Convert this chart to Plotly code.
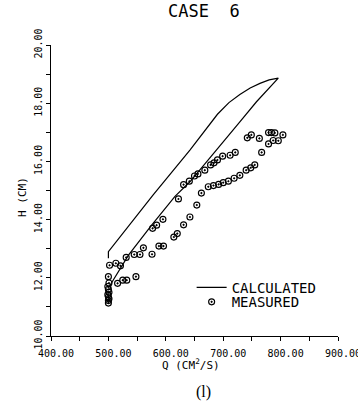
import plotly.graph_objects as go

# Calculated curve (loop)
calc_q = [500, 500, 578, 642, 690, 710, 729, 747, 764, 780, 796,
          758, 729, 700, 671, 642, 616, 575, 535, 503, 500]
calc_h = [12.67, 12.90, 14.85, 16.39, 17.62, 18.02, 18.30, 18.52, 18.68, 18.80, 18.86,
          18.05, 17.36, 16.68, 15.99, 15.30, 14.80, 13.80, 12.78, 11.75, 11.65]

# Measured points
meas_q = [500, 501, 499, 500, 501, 499, 500, 501, 500, 500,
          502, 513, 521, 531, 545, 555, 561, 577, 584, 595, 622, 631, 641, 650, 656,
          668, 678, 684, 690, 699, 712, 721, 742, 749, 763, 779, 784, 790, 804,
          516, 525, 532, 548, 576, 588, 596, 614, 620, 631, 642, 654, 662, 674,
          683, 692, 700, 709, 719, 729, 740, 748, 755, 767, 779, 787, 796]
meas_h = [12.04, 11.82, 11.70, 11.60, 11.50, 11.42, 11.35, 11.28, 11.22, 11.13,
          12.43, 12.50, 12.41, 12.70, 12.80, 12.80, 13.03, 13.70, 13.81, 14.01, 14.71, 15.20, 15.32, 15.50, 15.57,
          15.70, 15.88, 15.95, 16.05, 16.18, 16.21, 16.31, 16.81, 16.91, 16.79, 16.99, 16.99, 16.98, 16.91,
          11.81, 11.92, 11.92, 12.04, 12.81, 13.09, 13.09, 13.40, 13.52, 13.82, 14.09, 14.50, 14.91, 15.13,
          15.17, 15.21, 15.27, 15.32, 15.42, 15.52, 15.70, 15.78, 15.88, 16.31, 16.60, 16.72, 16.71]

MONO = "DejaVu Sans Mono"

fig = go.Figure()
fig.add_trace(go.Scatter(x=calc_q, y=calc_h, mode="lines", name="CALCULATED",
                         line=dict(color="black", width=1.2), legend="legend"))
fig.add_trace(go.Scatter(x=meas_q, y=meas_h, mode="markers", name="MEASURED",
                         marker=dict(symbol="circle-open-dot", size=6, color="black",
                                     line=dict(width=1.15, color="black")),
                         legend="legend2"))

axis_common = dict(showline=True, linecolor="black", linewidth=1.2, showgrid=False,
                   zeroline=False, ticks="outside", tickcolor="black", tickwidth=1.2,
                   tickformat=".2f", mirror=False, ticklabeloverflow="allow", automargin=False,
                   tickfont=dict(family=MONO, size=10, color="black"))

fig.update_xaxes(range=[400, 900], dtick=100, tick0=400, ticklen=4,
                 minor=dict(dtick=50, ticks="outside", ticklen=4, tickcolor="black", tickwidth=1.2),
                 ticklabelshift=5, ticklabelstandoff=4, **axis_common)
fig.update_yaxes(range=[10, 20], dtick=2, tick0=10, ticklen=4, tickangle=-90,
                 minor=dict(dtick=1, ticks="outside", ticklen=4, tickcolor="black", tickwidth=1.2),
                 **axis_common)

fig.update_layout(
    width=358, height=406,
    margin=dict(l=51, r=20, t=45, b=70, autoexpand=False),
    paper_bgcolor="white", plot_bgcolor="white",
    showlegend=True,
    legend=dict(x=0.49, y=0.166, xanchor="left", yanchor="middle", bgcolor="rgba(0,0,0,0)",
                font=dict(family=MONO, size=14, color="black")),
    legend2=dict(x=0.49, y=0.116, xanchor="left", yanchor="middle", bgcolor="rgba(0,0,0,0)",
                 font=dict(family=MONO, size=14, color="black")),
    annotations=[
        dict(text="CASE\u00a0\u00a06", x=0.533, y=1.117, xref="paper", yref="paper",
             xanchor="center", yanchor="middle",
             showarrow=False, font=dict(family=MONO, size=17, color="black")),
        dict(text="H (CM)", x=-0.0976, y=0.478, xref="paper", yref="paper", textangle=-90,
             xanchor="center", yanchor="middle",
             showarrow=False, font=dict(family=MONO, size=11, color="black")),
        dict(text="Q (CM<sup>2</sup>/S)", x=0.488, y=-0.098, xref="paper", yref="paper",
             xanchor="center", yanchor="middle",
             showarrow=False, font=dict(family=MONO, size=11, color="black")),
        dict(text="(l)", x=0.53, y=-0.192, xref="paper", yref="paper",
             xanchor="center", yanchor="middle",
             showarrow=False, font=dict(family="Liberation Serif", size=16, color="black")),
    ],
)

fig.write_html("out.html")
